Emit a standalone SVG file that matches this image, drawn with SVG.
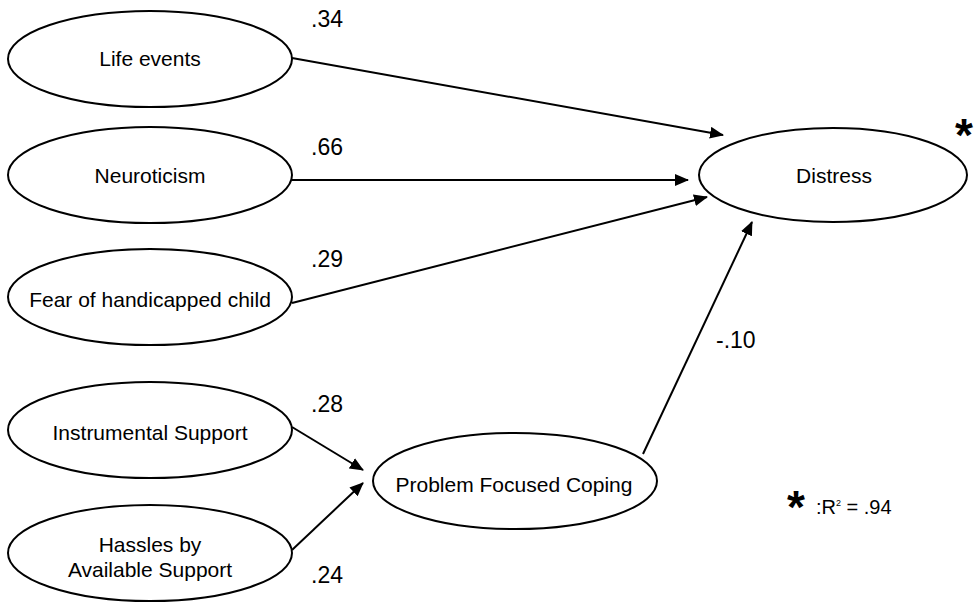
<svg xmlns="http://www.w3.org/2000/svg" width="975" height="602" viewBox="0 0 975 602">
<style>
  .node { fill: #fff; stroke: #000; stroke-width: 2; }
  .lbl { font-family: "Liberation Sans", Arial, sans-serif; font-size: 21px; fill: #000; text-anchor: middle; }
  .num { font-family: "Liberation Sans", Arial, sans-serif; font-size: 23px; fill: #000; }
  .conn { stroke: #000; stroke-width: 2; fill: none; marker-end: url(#arrow); }
  .star { font-family: "Liberation Sans", Arial, sans-serif; font-size: 46px; font-weight: bold; fill: #000; text-anchor: middle; }
</style>
<defs>
  <marker id="arrow" markerUnits="userSpaceOnUse" markerWidth="14" markerHeight="12" viewBox="0 0 14 12" refX="13" refY="6" orient="auto">
    <path d="M0,0 L14,6 L0,12 z" fill="#000"/>
  </marker>
</defs>
<rect width="975" height="602" fill="#fff"/>
<g id="connectors">
  <line class="conn" x1="292" y1="58" x2="723" y2="135"/>
  <line class="conn" x1="292" y1="180" x2="688" y2="180"/>
  <line class="conn" x1="292" y1="303" x2="707" y2="197"/>
  <line class="conn" x1="643" y1="454" x2="752" y2="222"/>
  <line class="conn" x1="292" y1="427" x2="363" y2="470"/>
  <line class="conn" x1="292" y1="550" x2="363" y2="483"/>
</g>
<g id="life-events">
  <ellipse class="node" cx="150" cy="59" rx="142" ry="48"/>
  <text class="lbl" x="150" y="66">Life events</text>
</g>
<g id="neuroticism">
  <ellipse class="node" cx="150" cy="175" rx="142" ry="48"/>
  <text class="lbl" x="150" y="183">Neuroticism</text>
</g>
<g id="fear">
  <ellipse class="node" cx="150" cy="297" rx="142" ry="48"/>
  <text class="lbl" x="150" y="307">Fear of handicapped child</text>
</g>
<g id="instrumental-support">
  <ellipse class="node" cx="150" cy="430" rx="142" ry="48"/>
  <text class="lbl" x="150" y="440">Instrumental Support</text>
</g>
<g id="hassles">
  <ellipse class="node" cx="150" cy="553" rx="142" ry="48"/>
  <text class="lbl" x="150" y="552">Hassles by</text>
  <text class="lbl" x="150" y="577">Available Support</text>
</g>
<g id="problem-focused-coping">
  <ellipse class="node" cx="515" cy="481" rx="142" ry="48"/>
  <text class="lbl" x="514" y="492">Problem Focused Coping</text>
</g>
<g id="distress">
  <ellipse class="node" cx="833" cy="175" rx="134" ry="47"/>
  <text class="lbl" x="834" y="183">Distress</text>
</g>
<g id="labels">
  <text class="num" x="311" y="27">.34</text>
  <text class="num" x="311" y="155">.66</text>
  <text class="num" x="311" y="267">.29</text>
  <text class="num" x="311" y="412">.28</text>
  <text class="num" x="311" y="583">.24</text>
  <text class="num" x="716" y="348">-.10</text>
  <text class="star" x="964" y="151">*</text>
  <text class="star" x="796" y="523">*</text>
  <text font-family="'Liberation Sans', Arial, sans-serif" font-size="20" fill="#000" x="816" y="514">:R<tspan font-size="9" dy="-8">2</tspan><tspan dy="8"> = .94</tspan></text>
</g>
</svg>
